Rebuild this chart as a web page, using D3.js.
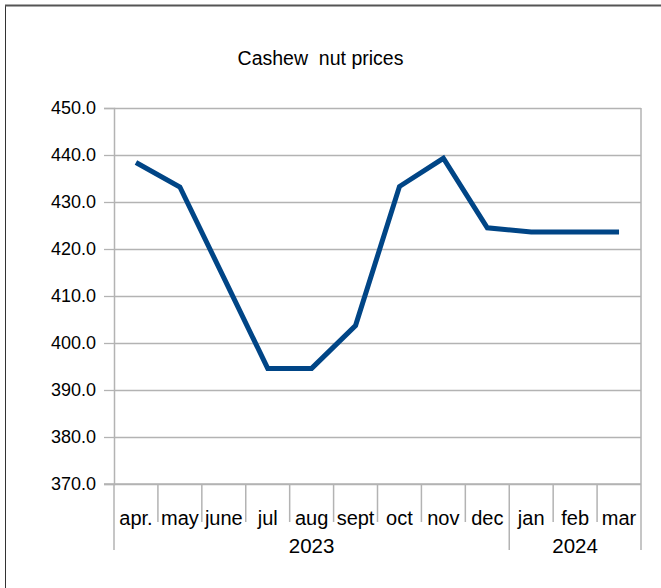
<!DOCTYPE html>
<html>
<head>
<meta charset="utf-8">
<script src="https://cdn.jsdelivr.net/npm/d3@7"></script>
<style>
  html, body { margin: 0; padding: 0; background: #fff; }
  svg { display: block; }
  text { font-family: "Liberation Sans", Arial, sans-serif; fill: #000; }
</style>
</head>
<body>
<svg id="chart" width="661" height="588"></svg>
<script>
const title = "Cashew  nut prices";
const months = ["apr.", "may", "june", "jul", "aug", "sept", "oct", "nov", "dec", "jan", "feb", "mar"];
const prices = [438.4, 433.2, 413.9, 394.6, 394.6, 403.7, 433.3, 439.3, 424.5, 423.6, 423.6, 423.6];
const yearGroups = [
  { label: "2023", first: "apr.", last: "dec" },
  { label: "2024", first: "jan", last: "mar" }
];
const yTicks = [370, 380, 390, 400, 410, 420, 430, 440, 450];

const svg = d3.select("#chart");
const W = 661, H = 588;
const plot = { left: 114, right: 641, top: 108, bottom: 484 };
const gridColor = "#b3b3b3";

// outer frame (left + top edges visible)
svg.append("line").attr("x1", 5.5).attr("x2", 5.5).attr("y1", 5).attr("y2", H)
  .attr("stroke", "#333").attr("stroke-width", 1);
svg.append("line").attr("x1", 5).attr("x2", W).attr("y1", 5.5).attr("y2", 5.5)
  .attr("stroke", "#555").attr("stroke-width", 2);

const x = d3.scaleBand().domain(months).range([plot.left, plot.right]).padding(0);
const y = d3.scaleLinear().domain([370, 450]).range([plot.bottom, plot.top]);

// title
svg.append("text").attr("x", 320.5).attr("y", 65)
  .attr("text-anchor", "middle").attr("font-size", 19.5)
  .style("white-space", "pre").attr("xml:space", "preserve").text(title);

// gridlines
svg.append("g").selectAll("line").data(yTicks).join("line")
  .attr("x1", plot.left).attr("x2", plot.right)
  .attr("y1", d => Math.round(y(d)) + 0.5).attr("y2", d => Math.round(y(d)) + 0.5)
  .attr("stroke", gridColor).attr("stroke-width", 1.3);

// y axis
const yAxis = d3.axisLeft(y).tickValues(yTicks).tickFormat(d3.format(".1f")).tickSize(10).tickPadding(8);
const gy = svg.append("g").attr("transform", `translate(${plot.left},0)`).call(yAxis);
gy.select(".domain").attr("stroke", gridColor).attr("stroke-width", 1.5);
gy.selectAll(".tick line").attr("stroke", gridColor).attr("stroke-width", 1.3);
gy.selectAll(".tick text").attr("font-size", 18).attr("fill", "#000")
  .attr("font-family", '"Liberation Sans", Arial, sans-serif');

// right border of plot
svg.append("line").attr("x1", plot.right).attr("x2", plot.right)
  .attr("y1", plot.top).attr("y2", plot.bottom)
  .attr("stroke", gridColor).attr("stroke-width", 1.5);

// x axis: month labels, separators
const xAxisG = svg.append("g");
const groupEdges = new Set();
yearGroups.forEach(g => { groupEdges.add(x(g.first)); groupEdges.add(x(g.last) + x.bandwidth()); });
const edges = months.map(m => x(m)).concat([x(months[months.length - 1]) + x.bandwidth()]);
xAxisG.selectAll("line.sep").data(edges).join("line")
  .attr("class", "sep")
  .attr("x1", d => d).attr("x2", d => d)
  .attr("y1", plot.bottom)
  .attr("y2", d => [...groupEdges].some(e => Math.abs(e - d) < 0.5) ? 550 : 522)
  .attr("stroke", gridColor).attr("stroke-width", 1.5);
xAxisG.append("line").attr("x1", plot.left - 10).attr("x2", plot.right)
  .attr("y1", plot.bottom).attr("y2", plot.bottom)
  .attr("stroke", gridColor).attr("stroke-width", 1.5);

xAxisG.selectAll("text.month").data(months).join("text")
  .attr("class", "month")
  .attr("x", d => x(d) + x.bandwidth() / 2).attr("y", 525)
  .attr("text-anchor", "middle").attr("font-size", 20).text(d => d);

xAxisG.selectAll("text.year").data(yearGroups).join("text")
  .attr("class", "year")
  .attr("x", d => (x(d.first) + x(d.last) + x.bandwidth()) / 2).attr("y", 553)
  .attr("text-anchor", "middle").attr("font-size", 20.5).text(d => d.label);

// line
const line = d3.line().x((d, i) => x(months[i]) + x.bandwidth() / 2).y(d => y(d));
svg.append("path").datum(prices)
  .attr("d", line).attr("fill", "none")
  .attr("stroke", "#004586").attr("stroke-width", 5)
  .attr("stroke-linejoin", "miter").attr("stroke-linecap", "butt");
</script>
</body>
</html>
